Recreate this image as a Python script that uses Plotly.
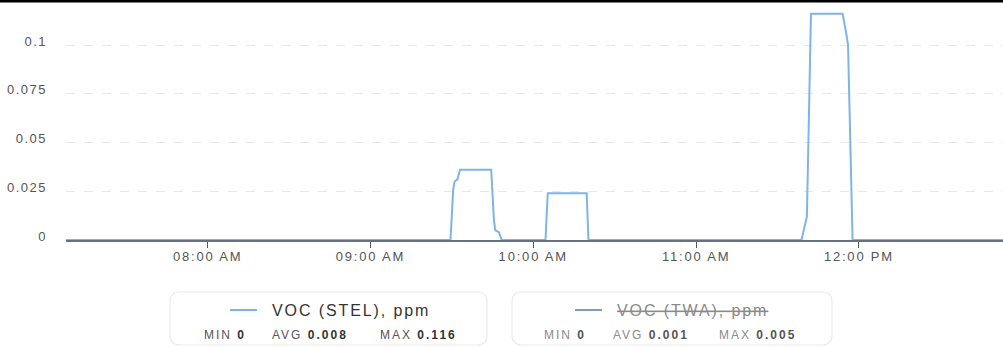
import plotly.graph_objects as go

# ---- data ----
day = "2024-01-01 "
stel_times = ["07:07:48", "09:29:30", "09:30:30", "09:31:00", "09:32:00", "09:33:00",
              "09:44:30", "09:45:30", "09:46:00", "09:47:20", "09:48:20",
              "10:04:30", "10:05:20", "10:19:40", "10:20:20",
              "11:38:50", "11:40:00", "11:40:50", "11:42:20", "11:54:00",
              "11:55:20", "11:56:00", "11:57:40", "12:53:06"]
stel_values = [0, 0, 0.026, 0.030, 0.031, 0.036,
               0.036, 0.010, 0.005, 0.004, 0,
               0, 0.024, 0.024, 0,
               0, 0.007, 0.012, 0.116, 0.116,
               0.106, 0.100, 0, 0]

series_names = ["VOC (STEL), ppm", "VOC (TWA), ppm"]
series_colors = ["#7db5e5", "#7f9cc8"]
series_min = ["0", "0"]
series_avg = ["0.008", "0.001"]
series_max = ["0.116", "0.005"]
series_hidden = [False, True]

y_ticks = [0, 0.025, 0.05, 0.075, 0.1]
y_ticklabels = ["0", "0.025", "0.05", "0.075", "0.1"]
x_ticks = ["08:00:00", "09:00:00", "10:00:00", "11:00:00", "12:00:00"]
x_ticklabels = ["08:00 AM", "09:00 AM", "10:00 AM", "11:00 AM", "12:00 PM"]

# ---- layout geometry (pixels) ----
W, H = 1003, 348
L, R, T, B = 66, 0, 3, 108
PW, PH = W - L - R, H - T - B


def px(x):
    return (x - L) / PW


def py(y):
    return (H - B - y) / PH


def spaced(text, ls, extra=""):
    return f"<span style='letter-spacing:{ls}px;{extra}'>{text}</span>"


fig = go.Figure()
fig.add_trace(go.Scatter(
    x=[day + t for t in stel_times], y=stel_values, mode="lines",
    line=dict(color=series_colors[0], width=2), name=series_names[0],
    showlegend=False, hoverinfo="x+y"))

shapes = []
annotations = []

# black strip at top of page
shapes.append(dict(type="rect", xref="paper", yref="paper",
                   x0=px(0), x1=px(W), y0=py(0), y1=py(2.5),
                   fillcolor="black", line=dict(width=0), layer="above"))


def rounded_rect(x0, y0, x1, y1, r):
    X0, X1 = px(x0), px(x1)
    Y0, Y1 = py(y0), py(y1)
    rx, ry = r / PW, r / PH
    return (f"M {X0+rx},{Y0} L {X1-rx},{Y0} Q {X1},{Y0} {X1},{Y0-ry} "
            f"L {X1},{Y1+ry} Q {X1},{Y1} {X1-rx},{Y1} L {X0+rx},{Y1} "
            f"Q {X0},{Y1} {X0},{Y1+ry} L {X0},{Y0-ry} Q {X0},{Y0} {X0+rx},{Y0} Z")


boxes = [dict(x0=170, x1=487, line=(230, 257), title=270, mn=202, av=270, mx=378),
         dict(x0=512, x1=832, line=(575, 602), title=615, mn=542, av=611, mx=717)]

for i, bx in enumerate(boxes):
    shapes.append(dict(type="path", xref="paper", yref="paper",
                       path=rounded_rect(bx["x0"], 292, bx["x1"], 345, 10),
                       line=dict(color="#ebebeb", width=1.2), fillcolor="white"))
    shapes.append(dict(type="line", xref="paper", yref="paper",
                       x0=px(bx["line"][0]), x1=px(bx["line"][1]),
                       y0=py(310), y1=py(310),
                       line=dict(color=series_colors[i], width=2)))
    title = series_names[i]
    tcolor = "#333333"
    if series_hidden[i]:
        title = "<s>" + title + "</s>"
        tcolor = "#8a8a8a"
    annotations.append(dict(xref="paper", yref="paper", x=px(bx["title"]), y=py(310),
                            text=spaced(title, 1.9), showarrow=False,
                            xanchor="left", yanchor="middle",
                            font=dict(size=16, color=tcolor)))
    vcol = "#333333" if not series_hidden[i] else "#555555"
    lcol = "#555555" if not series_hidden[i] else "#8a8a8a"
    for key, lab, val in [("mn", "MIN", series_min[i]), ("av", "AVG", series_avg[i]),
                          ("mx", "MAX", series_max[i])]:
        annotations.append(dict(
            xref="paper", yref="paper", x=px(bx[key]), y=py(335),
            text=spaced(f"<span style='color:{lcol}'>{lab}</span> <b>{val}</b>", 2),
            showarrow=False, xanchor="left", yanchor="middle",
            font=dict(size=12, color=vcol)))

fig.update_layout(
    width=W, height=H,
    margin=dict(l=L, r=R, t=T, b=B, pad=0),
    paper_bgcolor="white", plot_bgcolor="white",
    font=dict(family="Liberation Sans, Arial, sans-serif", color="#555555"),
    showlegend=False,
    shapes=shapes, annotations=annotations,
    xaxis=dict(type="date",
               range=[day + "07:07:48", day + "12:53:06"],
               tickvals=[day + t for t in x_ticks],
               ticktext=[spaced(t, 1.8) for t in x_ticklabels],
               showgrid=False, zeroline=False,
               showline=True, linecolor="#66727f", linewidth=1.5,
               ticks="outside", ticklen=6, tickcolor="#555555", tickwidth=1.2,
               tickfont=dict(size=13, color="#555555"), ticklabelstandoff=-2),
    yaxis=dict(range=[0, PH / 1950.0], tickvals=y_ticks,
               ticktext=[spaced(t, 1.5) for t in y_ticklabels],
               showgrid=True, gridcolor="#e8e8e8", griddash="dash", gridwidth=1,
               zeroline=False, showline=False, ticks="",
               tickfont=dict(size=13, color="#555555"),
               ticklabelstandoff=18, ticklabelshift=-4),
)

fig.write_html("out.html", config={"displayModeBar": False},
               post_script="document.body.style.margin='0';")
